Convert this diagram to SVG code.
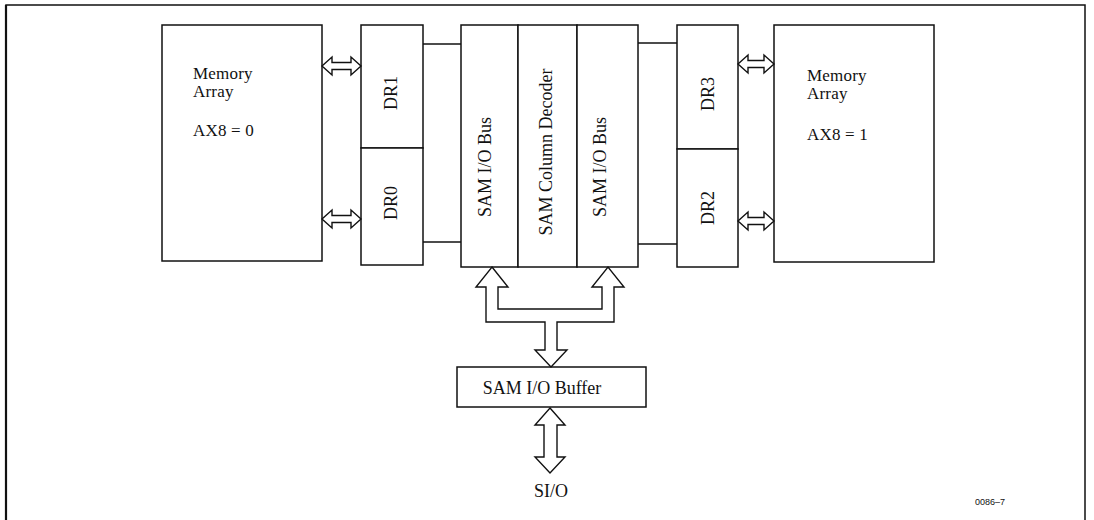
<svg xmlns="http://www.w3.org/2000/svg" width="1094" height="520" viewBox="0 0 1094 520">
<style>
.box{fill:#fff;stroke:#111;stroke-width:1.5}
.ln{fill:none;stroke:#111;stroke-width:1.5}
.arr{fill:#fff;stroke:#111;stroke-width:1.4;stroke-linejoin:miter}
.t{font-family:"Liberation Serif","Times New Roman",serif;font-size:18px;fill:#111}
.m{font-family:"Liberation Serif","Times New Roman",serif;font-size:17px;fill:#111;letter-spacing:0.2px}
.v{font-family:"Liberation Serif","Times New Roman",serif;font-size:18px;fill:#111;text-anchor:middle}
.s{font-family:"Liberation Sans",Arial,sans-serif;font-size:9px;fill:#111}
</style>
<rect width="1094" height="520" fill="#fff"/>
<g id="frame">
<path class="ln" d="M6,520 V5 H1085 V520" />
<line x1="6" y1="5" x2="6" y2="520" stroke="#111" stroke-width="2.2"/>
</g>
<g id="mem0">
<rect class="box" x="162" y="25" width="160" height="236"/>
<text class="m" x="193" y="79">Memory</text>
<text class="m" x="193" y="97">Array</text>
<text class="m" x="193" y="136">AX8 = 0</text>
</g>
<g id="dr1">
<rect class="box" x="361" y="25" width="62" height="123"/>
<text class="v" transform="translate(397,93) rotate(-90)">DR1</text>
</g>
<g id="dr0">
<rect class="box" x="361" y="148" width="62" height="117"/>
<text class="v" transform="translate(397,203) rotate(-90)">DR0</text>
</g>
<g id="sambus0">
<rect class="box" x="461" y="25" width="57" height="242"/>
<text class="v" transform="translate(491,167) rotate(-90)">SAM I/O Bus</text>
</g>
<g id="decoder">
<rect class="box" x="518" y="25" width="59" height="242"/>
<text class="v" transform="translate(552,152) rotate(-90)" font-size="17.3">SAM Column Decoder</text>
</g>
<g id="sambus1">
<rect class="box" x="577" y="25" width="61" height="242"/>
<text class="v" transform="translate(606,167) rotate(-90)">SAM I/O Bus</text>
</g>
<g id="dr3">
<rect class="box" x="677" y="25" width="61" height="124"/>
<text class="v" transform="translate(714,94) rotate(-90)">DR3</text>
</g>
<g id="dr2">
<rect class="box" x="677" y="149" width="61" height="118"/>
<text class="v" transform="translate(714,208) rotate(-90)">DR2</text>
</g>
<g id="mem1">
<rect class="box" x="774" y="25" width="160" height="237"/>
<text class="m" x="807" y="81">Memory</text>
<text class="m" x="807" y="99">Array</text>
<text class="m" x="807" y="140">AX8 = 1</text>
</g>
<g id="buffer">
<rect class="box" x="457" y="367" width="189" height="40"/>
<text class="t" x="542" y="394" text-anchor="middle">SAM I/O Buffer</text>
</g>
<g id="sio">
<text class="t" x="551" y="497" text-anchor="middle" font-size="17">SI/O</text>
</g>
<g id="connectors">
<line class="ln" x1="423" y1="44" x2="461" y2="44"/>
<line class="ln" x1="423" y1="242" x2="461" y2="242"/>
<line class="ln" x1="638" y1="43" x2="677" y2="43"/>
<line class="ln" x1="638" y1="244" x2="677" y2="244"/>
<polygon class="arr" points="322,66 332,57 332,62.5 351,62.5 351,57 361,66 351,75 351,69.5 332,69.5 332,75"/>
<polygon class="arr" points="322,219 332,210 332,215.5 351,215.5 351,210 361,219 351,228 351,222.5 332,222.5 332,228"/>
<polygon class="arr" points="738,64 748,55 748,60.5 764,60.5 764,55 774,64 764,73 764,67.5 748,67.5 748,73"/>
<polygon class="arr" points="738,221 748,212 748,217.5 764,217.5 764,212 774,221 764,230 764,224.5 748,224.5 748,230"/>
<polygon class="arr" points="492,267 508,287 498,287 498,309 602,309 602,287 592,287 608,267 624,287 614,287 614,322 557,322 557,350 567,350 551,367 535,350 545,350 545,322 486,322 486,287 476,287"/>
<polygon class="arr" points="550,408 565,425 557,425 557,457 565,457 550,473 535,457 544,457 544,425 535,425"/>
</g>
<text class="s" x="975" y="505">0086–7</text>
</svg>
